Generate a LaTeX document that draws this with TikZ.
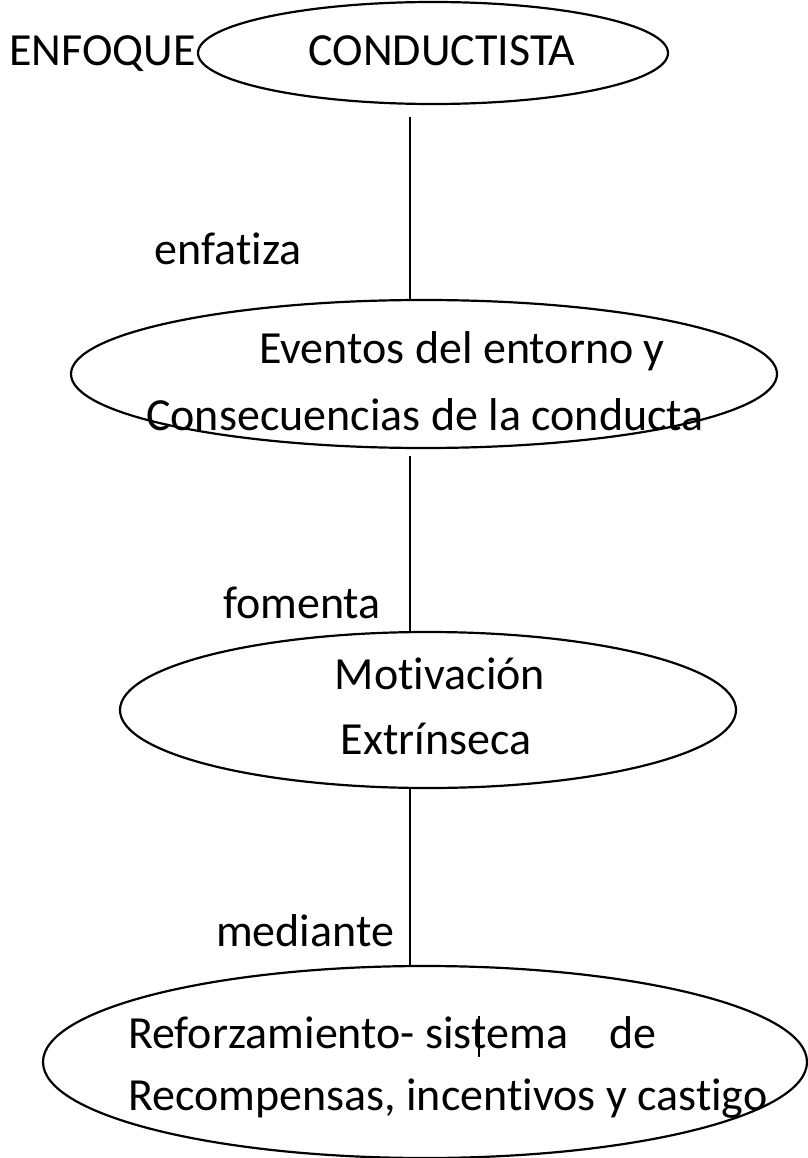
\documentclass[tikz,border=0pt]{standalone}
\usepackage{fontspec}
\setmainfont[Ligatures={NoCommon}]{Carlito}
\usetikzlibrary{shapes.geometric}
\tikzset{
  oval/.style={ellipse, draw, line width=2.2pt, inner sep=0pt},
  txt/.style={inner sep=0pt, anchor=base, font=\fontsize{46}{50}\selectfont},
  link/.style={line width=2.4pt}
}
\begin{document}
\begin{tikzpicture}[x=1pt,y=-1pt]
\useasboundingbox (0,0) rectangle (807,1158);
% ellipses
\node[oval, minimum width=470, minimum height=102] (e1) at (433,53) {};
\node[oval, minimum width=706, minimum height=148] (e2) at (424,374) {};
\node[oval, minimum width=616, minimum height=156] (e3) at (428,710) {};
\node[oval, minimum width=764, minimum height=192] (e4) at (425,1062) {};
% texts
\node[txt, anchor=base west] (enf) at (9,66) {ENFOQUE};
\node[txt] (t1) at (442,66) {CONDUCTISTA};
\node[txt] (t2a) at (462,363) {Eventos del entorno y};
\node[txt] (t2b) at (425,430) {Consecuencias de la conducta};
\node[txt] (t3a) at (440,689) {Motivación};
\node[txt] (t3b) at (436,754) {Extrínseca};
\node[txt, anchor=base west] (t4a) at (128,1048) {Reforzamiento- sis\rlap{\hspace{0.13em}\rule[-0.2em]{0.04em}{0.9em}}tema\hspace{0.9em}de};
\node[txt, anchor=base west] (t4b) at (128,1110) {Recompensas, incentivos y castigo};
% labels
\node[txt] (l1) at (228,264) {enfatiza};
\node[txt] (l2) at (302,618) {fomenta};
\node[txt] (l3) at (305,946) {mediante};
% connectors
\coordinate (cx) at (410,0);
\draw[link] (cx |- e1.south) ++(0,12) -- (cx |- e2.north);
\draw[link] (cx |- e2.south) ++(0,7) -- (cx |- e3.north);
\draw[link] (cx |- e3.south) -- (cx |- e4.north);
\end{tikzpicture}
\end{document}
